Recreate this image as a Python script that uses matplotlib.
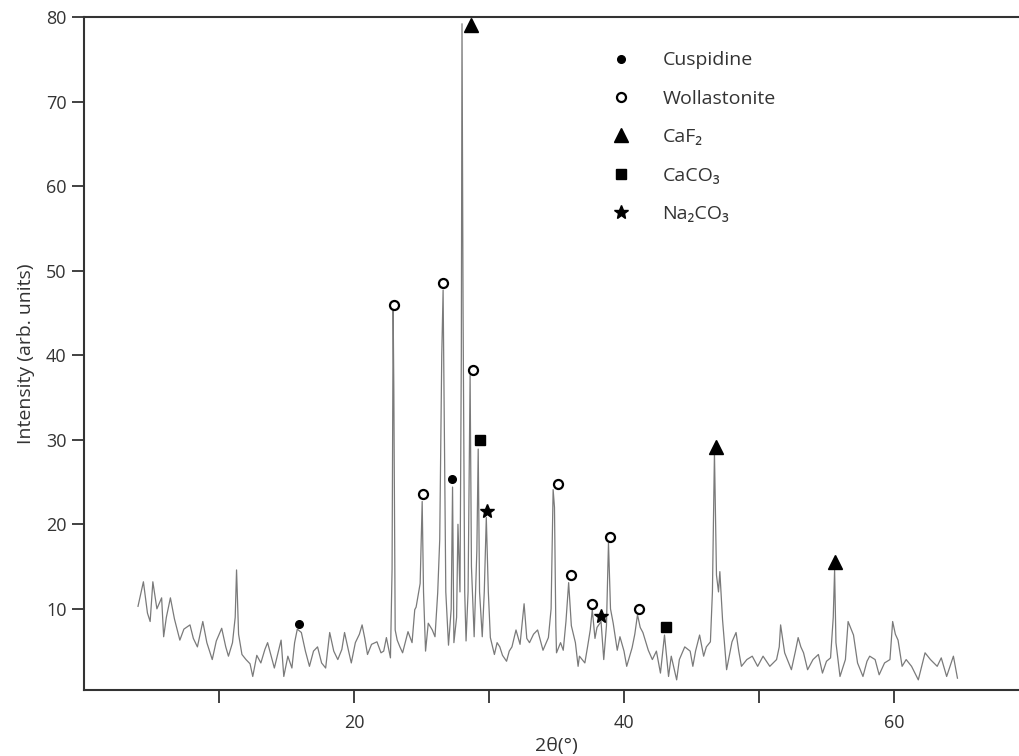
import matplotlib
matplotlib.use("Agg")
import matplotlib.pyplot as plt

plt.rcParams['font.family'] = ['Open Sans', 'DejaVu Sans']

# diffraction trace
two_theta = [4.0, 4.4, 4.7, 4.9, 5.1, 5.4, 5.75, 5.9, 6.1, 6.4, 6.7, 7.1, 7.4, 7.85, 8.1, 8.4,
             8.8, 9.1, 9.5, 9.8, 10.2, 10.5, 10.7, 11.0, 11.2, 11.3, 11.45, 11.7, 12.0, 12.3,
             12.5, 12.8, 13.1, 13.4, 13.6, 13.9, 14.1, 14.4, 14.6, 14.8, 15.1, 15.4, 15.6,
             15.8, 16.1, 16.4, 16.7, 17.0, 17.3, 17.6, 17.9, 18.2, 18.5, 18.8, 19.1, 19.3,
             19.6, 19.8, 20.1, 20.4, 20.6, 20.8, 21.0, 21.3, 21.7, 22.0, 22.2, 22.4, 22.7,
             22.82, 22.9, 22.95, 23.05, 23.2, 23.4, 23.6, 24.0, 24.3, 24.5, 24.6, 24.9, 25.05,
             25.15, 25.3, 25.5, 25.8, 26.0, 26.2, 26.35, 26.5, 26.6, 26.7, 26.8, 27.0, 27.2,
             27.3, 27.4, 27.6, 27.7, 27.85, 27.95, 28.0, 28.08, 28.2, 28.3, 28.45, 28.6, 28.7,
             28.9, 29.1, 29.2, 29.3, 29.5, 29.65, 29.8, 29.95, 30.1, 30.4, 30.6, 30.8, 31.0,
             31.3, 31.5, 31.7, 32.0, 32.3, 32.6, 32.8, 33.0, 33.3, 33.6, 34.0, 34.4, 34.6,
             34.75, 34.85, 34.95, 35.0, 35.3, 35.5, 35.7, 35.9, 36.1, 36.4, 36.6, 36.7, 37.1,
             37.3, 37.5, 37.65, 37.85, 38.0, 38.3, 38.5, 38.7, 38.85, 39.0, 39.2, 39.5, 39.7,
             40.0, 40.2, 40.6, 40.8, 41.0, 41.2, 41.4, 41.8, 42.1, 42.4, 42.7, 43.0, 43.3,
             43.5, 43.9, 44.1, 44.5, 44.9, 45.1, 45.3, 45.6, 45.9, 46.1, 46.4, 46.55, 46.7,
             46.85, 47.0, 47.1, 47.3, 47.6, 48.0, 48.3, 48.5, 48.7, 49.1, 49.5, 49.9, 50.3,
             50.8, 51.3, 51.5, 51.6, 51.9, 52.4, 52.7, 52.9, 53.1, 53.3, 53.6, 54.0, 54.4,
             54.7, 55.0, 55.3, 55.5, 55.6, 55.7, 56.0, 56.4, 56.6, 57.0, 57.3, 57.7, 58.0,
             58.2, 58.6, 58.9, 59.3, 59.7, 59.9, 60.1, 60.3, 60.6, 60.9, 61.3, 61.8, 62.3,
             62.7, 63.2, 63.5, 63.9, 64.4, 64.7]
intensity = [10.3, 13.2, 9.5, 8.5, 13.2, 10.0, 11.3, 6.7, 9.0, 11.3, 8.8, 6.3, 7.6, 8.1, 6.5, 5.5,
             8.5, 6.0, 4.0, 6.2, 7.7, 5.5, 4.4, 6.0, 9.0, 14.6, 7.0, 4.6, 4.0, 3.5,
             2.0, 4.5, 3.6, 5.2, 6.0, 4.2, 3.0, 5.0, 6.3, 2.0, 4.4, 3.0, 6.0,
             7.6, 7.2, 5.0, 3.2, 5.0, 5.5, 3.6, 3.0, 7.2, 5.0, 4.0, 5.2, 7.2,
             5.0, 3.6, 6.0, 7.0, 8.1, 6.5, 4.6, 5.8, 6.1, 4.8, 5.0, 6.6, 4.2,
             14.7, 45.3, 36.0, 7.5, 6.3, 5.5, 4.8, 7.3, 6.0, 9.9, 10.2, 13.0, 22.7,
             12.0, 5.0, 8.3, 7.5, 6.7, 11.9, 18.2, 40.0, 47.7, 30.0, 12.0, 5.7, 10.0,
             24.4, 6.0, 9.0, 20.0, 12.0, 40.0, 79.2, 45.0, 12.0, 6.2, 12.0, 37.6, 15.0,
             6.7, 16.9, 28.9, 12.0, 6.7, 12.0, 20.8, 12.0, 6.6, 4.6, 6.0, 5.5, 4.5,
             3.8, 5.0, 5.5, 7.5, 5.8, 10.6, 6.5, 6.0, 7.0, 7.5, 5.1, 6.6, 10.0,
             24.1, 22.0, 8.0, 4.8, 6.0, 5.1, 8.5, 13.1, 8.0, 6.0, 3.2, 4.4, 3.6,
             5.5, 7.5, 9.9, 6.5, 7.8, 8.5, 4.0, 8.0, 17.8, 10.0, 8.3, 5.1, 6.7,
             5.0, 3.2, 5.4, 7.0, 9.3, 7.8, 7.2, 5.1, 4.0, 5.0, 2.4, 6.9, 2.0,
             4.4, 1.6, 4.0, 5.5, 5.0, 3.2, 5.0, 6.9, 4.4, 5.5, 6.1, 12.0, 28.5,
             14.0, 12.0, 14.4, 8.7, 2.8, 6.1, 7.2, 5.0, 3.2, 4.0, 4.4, 3.2, 4.4,
             3.2, 4.0, 5.5, 8.1, 4.8, 2.8, 5.0, 6.6, 5.5, 4.8, 2.8, 4.0, 4.6,
             2.4, 3.8, 4.2, 9.0, 14.6, 6.0, 2.0, 4.0, 8.5, 6.9, 3.6, 2.0, 3.8,
             4.4, 4.0, 2.2, 3.6, 4.0, 8.5, 7.0, 6.3, 3.2, 4.0, 3.2, 1.6, 4.8,
             4.0, 3.2, 4.2, 2.0, 4.4, 1.8]

# phase markers
cusp_x = [15.9, 27.26]
cusp_y = [8.2, 25.4]
woll_x = [22.96, 25.1, 26.6, 28.8, 35.1, 36.1, 37.65, 38.96, 41.1]
woll_y = [45.9, 23.6, 48.5, 38.3, 24.8, 14.0, 10.6, 18.5, 10.0]
caf2_x = [28.64, 46.8, 55.63]
caf2_y = [79.0, 29.2, 15.5]
caco3_x = [29.33, 43.1]
caco3_y = [30.0, 7.9]
na2co3_x = [29.87, 38.3]
na2co3_y = [21.6, 9.2]

fig = plt.figure(figsize=(10.19, 7.56), dpi=100)
ax = fig.add_axes([84 / 1019, 66 / 756, 945 / 1019, 673 / 756])

ax.plot(two_theta, intensity, color='#7a7a7a', lw=0.9)

ax.plot(cusp_x, cusp_y, 'o', color='black', ms=5.5, ls='none', label='Cuspidine', clip_on=False)
ax.plot(woll_x, woll_y, 'o', mfc='white', mec='black', mew=1.6, ms=6.5, ls='none',
        label='Wollastonite', clip_on=False)
ax.plot(caf2_x, caf2_y, '^', color='black', ms=10, ls='none', label='CaF₂', clip_on=False)
ax.plot(caco3_x, caco3_y, 's', color='black', ms=6.5, ls='none', label='CaCO₃', clip_on=False)
ax.plot(na2co3_x, na2co3_y, '*', color='black', ms=10, ls='none', label='Na₂CO₃', clip_on=False)

ax.set_xlim(0, 70)
ax.set_ylim(0.4, 80)
ax.set_xticks([10, 20, 30, 40, 50, 60])
ax.set_xticklabels(['', '20', '', '40', '', '60'])
ax.set_yticks([10, 20, 30, 40, 50, 60, 70, 80])
ax.tick_params(direction='out', length=9, width=1.3, color='#333333', labelsize=13,
               labelcolor='#333333')
ax.tick_params(axis='x', pad=8)

for s in ['left', 'bottom', 'top']:
    ax.spines[s].set_linewidth(1.5)
    ax.spines[s].set_color('#333333')
ax.spines['right'].set_visible(False)

ax.set_xlabel('2θ(°)', fontsize=14, color='#333333', labelpad=4)
ax.set_ylabel('Intensity (arb. units)', fontsize=14, color='#333333', labelpad=8)

ax.legend(loc='upper left', bbox_to_anchor=(0.539, 0.975), frameon=False, fontsize=14,
          handletextpad=1.65, labelspacing=1.05, handlelength=1.0, labelcolor='#333333')

fig.savefig('out.png', dpi=100)
